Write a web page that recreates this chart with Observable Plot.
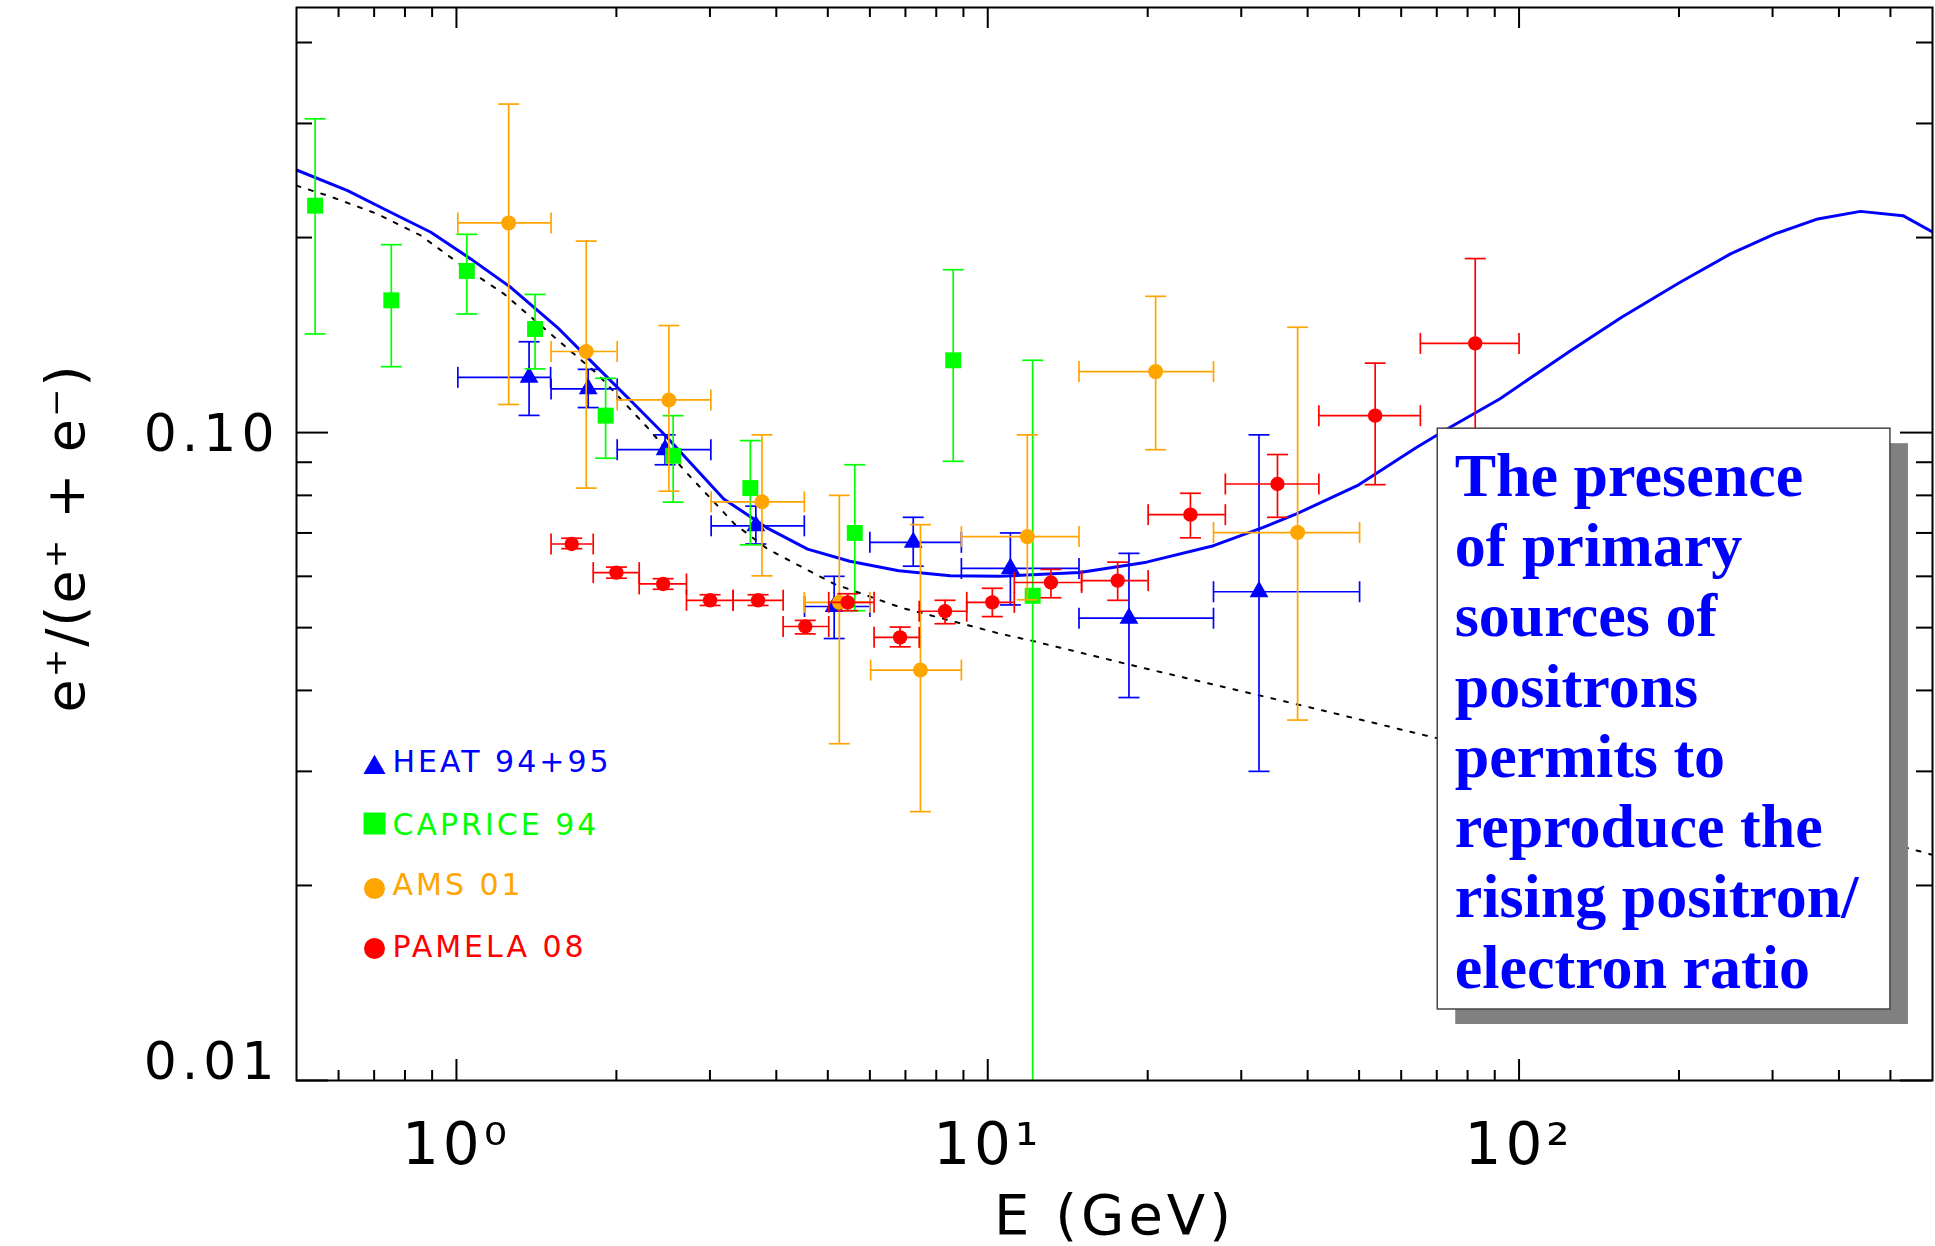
<!DOCTYPE html>
<html><head><meta charset="utf-8">
<script src="https://cdn.jsdelivr.net/npm/d3@7"></script>
<script src="https://cdn.jsdelivr.net/npm/@observablehq/plot@0.6"></script>
<style>
html,body{margin:0;padding:0;background:#fff;}
#chart{width:1935px;height:1246px;overflow:hidden;}
</style></head><body><div id="chart"></div>
<script>
// ---------- data ----------
const seriesNames = ["HEAT 94+95", "CAPRICE 94", "AMS 01", "PAMELA 08"];
const seriesColors = ["#0000ff", "#00ff00", "#ffa500", "#ff0000"];

// HEAT 94+95
const heatE    = [1.37, 1.77, 2.47, 3.66, 5.14, 7.24, 11.03, 18.44, 32.4];
const heatV    = [0.1217, 0.1168, 0.0941, 0.0718, 0.0539, 0.0677, 0.0617, 0.0517, 0.0568];
const heatLo   = [0.1063, 0.1093, 0.0892, 0.0673, 0.0481, 0.0622, 0.0542, 0.0390, 0.0300];
const heatHi   = [0.1381, 0.1252, 0.0992, 0.0770, 0.0600, 0.0740, 0.0700, 0.0651, 0.0992];
const heatElo  = [1.006, 1.507, 2.007, 3.016, 4.52, 6.0, 8.92, 14.85, 26.6];
const heatEhi  = [1.504, 2.007, 3.012, 4.516, 6.0, 8.92, 14.85, 26.6, 50.1];

// CAPRICE 94
const capE   = [0.542, 0.754, 1.046, 1.406, 1.909, 2.558, 3.574, 5.62, 8.61, 12.15];
const capV   = [0.224, 0.160, 0.1776, 0.1445, 0.1062, 0.0921, 0.0821, 0.0700, 0.1293, 0.0560];
const capLo  = [0.142, 0.1264, 0.1524, 0.1254, 0.0913, 0.0781, 0.0671, 0.0531, 0.0903, 0.005];
const capHi  = [0.305, 0.195, 0.2023, 0.1634, 0.1213, 0.1062, 0.0972, 0.0892, 0.1784, 0.1293];

// AMS 01
const amsE   = [1.254, 1.755, 2.511, 3.759, 5.256, 7.47, 11.87, 20.7, 38.3];
const amsV   = [0.2107, 0.1334, 0.1123, 0.0782, 0.0547, 0.0430, 0.0691, 0.1242, 0.0701];
const amsLo  = [0.1105, 0.0821, 0.0812, 0.0601, 0.0331, 0.0260, 0.0552, 0.0941, 0.036];
const amsHi  = [0.3214, 0.1975, 0.1463, 0.0992, 0.0800, 0.0721, 0.0992, 0.1623, 0.1454];
const amsElo = [1.006, 1.507, 2.007, 3.016, 4.516, 6.02, 8.92, 14.85, 26.6];
const amsEhi = [1.507, 2.007, 3.012, 4.516, 6.0, 8.92, 14.85, 26.6, 50.1];

// PAMELA 08
const pamE   = [1.648, 2.0, 2.449, 3.002, 3.696, 4.535, 5.45, 6.84, 8.31, 10.2, 13.15, 17.56, 24.07, 35.1, 53.6, 82.7];
const pamV   = [0.0673, 0.0608, 0.0584, 0.0551, 0.0551, 0.0502, 0.0547, 0.0483, 0.0530, 0.0547, 0.0587, 0.0591, 0.0747, 0.0833, 0.1062, 0.1373];
const pamLo  = [0.0662, 0.0596, 0.0573, 0.0541, 0.0541, 0.0489, 0.0531, 0.0467, 0.0507, 0.0520, 0.0556, 0.0551, 0.0688, 0.0740, 0.0831, 0.100];
const pamHi  = [0.0687, 0.0620, 0.0595, 0.0562, 0.0562, 0.0513, 0.0564, 0.0501, 0.0551, 0.0575, 0.0615, 0.0631, 0.0806, 0.0925, 0.128, 0.1856];
const pamElo = [1.507, 1.809, 2.208, 2.71, 3.317, 4.12, 5.02, 6.11, 7.43, 9.13, 11.22, 15.02, 20.04, 28.0, 42.0, 65.2];
const pamEhi = [1.809, 2.208, 2.71, 3.317, 4.12, 5.02, 6.11, 7.43, 9.13, 11.22, 15.02, 20.04, 28.0, 42.0, 65.2, 100];

// model with primary sources (solid blue)
const primE = [0.5, 0.624, 0.742, 0.895, 1.064, 1.265, 1.548, 1.841, 2.127, 2.457, 3.185, 3.85, 4.58, 5.5, 6.8, 8.5, 10.5, 14.9, 19.9, 26.6, 33.0, 38.1, 49.6, 64.2, 74.2, 92.1, 125, 156, 201, 250, 303, 365, 439, 528, 600];
const primV = [0.2543, 0.2363, 0.2200, 0.2038, 0.1854, 0.1676, 0.1454, 0.1261, 0.1121, 0.0995, 0.0790, 0.0712, 0.0661, 0.0633, 0.0612, 0.0601, 0.0600, 0.0608, 0.0631, 0.0669, 0.0714, 0.0749, 0.0828, 0.0949, 0.1019, 0.1128, 0.1338, 0.1507, 0.1706, 0.1887, 0.2026, 0.2137, 0.2195, 0.2162, 0.2040];

// secondary-only model (dotted black)
const secE = [0.5, 0.58, 0.71, 0.857, 1.034, 1.229, 1.504, 1.841, 2.286, 2.687, 3.336, 3.853, 5.14, 6.86, 10.58, 12.0, 19.9, 38.1, 68.5, 543, 600];
const secV = [0.2405, 0.2313, 0.2175, 0.2014, 0.1800, 0.1637, 0.1420, 0.1232, 0.1019, 0.0874, 0.0723, 0.0661, 0.0584, 0.0537, 0.0489, 0.0478, 0.0432, 0.0381, 0.0339, 0.0228, 0.0223];

// axes
const xMajor = [1, 10, 100];
const xTickLabels = ["10\u2070", "10\u00b9", "10\u00b2"];
const xMinor = [0.6, 0.7, 0.8, 0.9, 2, 3, 4, 5, 6, 7, 8, 9, 20, 30, 40, 50, 60, 70, 80, 90, 200, 300, 400, 500];
const yMajor = [0.01, 0.1];
const yTickLabels = ["0.01", "0.10"];
const yMinor = [0.02, 0.03, 0.04, 0.05, 0.06, 0.07, 0.08, 0.09, 0.2, 0.3, 0.4];
const xTitle = "E (GeV)";
const yTitle = "e\u207a/(e\u207a + e\u207b)";

// annotation
const boxLines = ["The presence", "of primary", "sources of", "positrons", "permits to", "reproduce the", "rising positron/", "electron ratio"];
const boxE = [70.3, 500];
const boxV = [0.01287, 0.1014];

// ---------- build ----------
const W = 1935, H = 1246;
const mL = 296, mR = 3, mT = 7, mB = 166;
const plotW = W - mL - mR, plotH = H - mT - mB;

const zipErr = (E, V, Lo, Hi, Elo, Ehi) => E.map((e, i) => ({e, v: V[i], lo: Lo[i], hi: Hi[i], elo: Elo ? Elo[i] : null, ehi: Ehi ? Ehi[i] : null}));
const heat = zipErr(heatE, heatV, heatLo, heatHi, heatElo, heatEhi);
const cap = zipErr(capE, capV, capLo, capHi, null, null);
const ams = zipErr(amsE, amsV, amsLo, amsHi, amsElo, amsEhi);
const pam = zipErr(pamE, pamV, pamLo, pamHi, pamElo, pamEhi);
const prim = primE.map((e, i) => ({e, v: primV[i]}));
const sec = secE.map((e, i) => ({e, v: secV[i]}));

const hCap = {draw(ctx, size) { const w = Math.sqrt(size / Math.PI); ctx.moveTo(-w, 0); ctx.lineTo(w, 0); }};
const vCap = {draw(ctx, size) { const w = Math.sqrt(size / Math.PI); ctx.moveTo(0, -w); ctx.lineTo(0, w); }};

const SW = 1.7, CAP = 10.5;
function errMarks(data, color, withX) {
  const m = [
    Plot.ruleX(data, {x: "e", y1: "lo", y2: "hi", stroke: color, strokeWidth: SW, clip: true}),
    Plot.dot(data.filter(d => d.lo > 0.0101), {x: "e", y: "lo", symbol: hCap, r: CAP, stroke: color, fill: "none", strokeWidth: SW}),
    Plot.dot(data, {x: "e", y: "hi", symbol: hCap, r: CAP, stroke: color, fill: "none", strokeWidth: SW})
  ];
  if (withX) {
    m.push(
      Plot.ruleY(data, {y: "v", x1: "elo", x2: "ehi", stroke: color, strokeWidth: SW}),
      Plot.dot(data, {x: "elo", y: "v", symbol: vCap, r: CAP, stroke: color, fill: "none", strokeWidth: SW}),
      Plot.dot(data, {x: "ehi", y: "v", symbol: vCap, r: CAP, stroke: color, fill: "none", strokeWidth: SW})
    );
  }
  return m;
}

const legendSymbols = ["triangle", "square", "circle", "circle"];
const legendR = [8.2, 12.4, 10.5, 10.5];
const legendSymDy = [760, 816, 881, 941];
const legendTextDy = [755, 818, 878, 940];
const legendMarks = [];
seriesNames.forEach((name, i) => {
  legendMarks.push(Plot.dot([name], {frameAnchor: "top-left", dx: 78, dy: legendSymDy[i], symbol: legendSymbols[i], r: legendR[i], fill: seriesColors[i], stroke: "none"}));
  legendMarks.push(Plot.text([name], {frameAnchor: "top-left", dx: 96, dy: legendTextDy[i], text: d => d, textAnchor: "start", lineAnchor: "middle", fill: seriesColors[i], fontSize: 30, fontFamily: "DejaVu Sans"}));
});

const box = [{x1: boxE[0], x2: boxE[1], y1: boxV[0], y2: boxV[1]}];

const chart = Plot.plot({
  width: W, height: H,
  marginLeft: mL, marginRight: mR, marginTop: mT, marginBottom: mB,
  style: {background: "#fff", fontFamily: "DejaVu Sans"},
  x: {type: "log", domain: [0.5, 600], axis: null},
  y: {type: "log", domain: [0.01, 0.453], axis: null},
  marks: [
    // curves
    Plot.line(prim, {x: "e", y: "v", stroke: "#0000ff", strokeWidth: 3, clip: true}),
    Plot.line(sec, {x: "e", y: "v", stroke: "#000", strokeWidth: 2, strokeDasharray: "4,9", clip: true}),
    // data
    ...errMarks(heat, seriesColors[0], true),
    Plot.dot(heat, {x: "e", y: "v", symbol: "triangle", r: 7, fill: seriesColors[0], stroke: "none"}),
    ...errMarks(cap, seriesColors[1], false),
    Plot.dot(cap, {x: "e", y: "v", symbol: "square", r: 9, fill: seriesColors[1], stroke: "none"}),
    ...errMarks(ams, seriesColors[2], true),
    Plot.dot(ams, {x: "e", y: "v", r: 7.5, fill: seriesColors[2], stroke: "none"}),
    ...errMarks(pam, seriesColors[3], true),
    Plot.dot(pam, {x: "e", y: "v", r: 7.2, fill: seriesColors[3], stroke: "none"}),
    // annotation box
    Plot.rect(box, {x1: "x1", x2: "x2", y1: "y1", y2: "y2", fill: "#808080", dx: 18, dy: 15}),
    Plot.rect(box, {x1: "x1", x2: "x2", y1: "y1", y2: "y2", fill: "#fff", stroke: "#444", strokeWidth: 1.5}),
    Plot.text([boxLines.join("\n")], {x: boxE[0], y: boxV[1], text: d => d, textAnchor: "start", lineAnchor: "top", dx: 17, dy: 17, lineHeight: 1.134, fontSize: 62, fontWeight: "bold", fontFamily: "Liberation Serif", fill: "#0000ff"}),
    // legend
    ...legendMarks,
    // frame and inward ticks
    Plot.frame({stroke: "#000", strokeWidth: 2}),
    Plot.ruleX(xMajor, {insetTop: plotH - 21, stroke: "#000", strokeWidth: 2}),
    Plot.ruleX(xMajor, {insetBottom: plotH - 21, stroke: "#000", strokeWidth: 2}),
    Plot.ruleX(xMinor, {insetTop: plotH - 10, stroke: "#000", strokeWidth: 2}),
    Plot.ruleX(xMinor, {insetBottom: plotH - 10, stroke: "#000", strokeWidth: 2}),
    Plot.ruleY(yMajor, {insetRight: plotW - 32, stroke: "#000", strokeWidth: 2}),
    Plot.ruleY(yMajor, {insetLeft: plotW - 32, stroke: "#000", strokeWidth: 2}),
    Plot.ruleY(yMinor, {insetRight: plotW - 16, stroke: "#000", strokeWidth: 2}),
    Plot.ruleY(yMinor, {insetLeft: plotW - 16, stroke: "#000", strokeWidth: 2}),
    // tick labels
    Plot.text([yMajor[1]], {y: d => d, frameAnchor: "left", dx: -17, dy: 2, text: () => yTickLabels[1], textAnchor: "end", lineAnchor: "middle", fontSize: 52, fontFamily: "DejaVu Sans", fill: "#000"}),
    Plot.text([yMajor[0]], {y: d => d, frameAnchor: "left", dx: -17, dy: -18, text: () => yTickLabels[0], textAnchor: "end", lineAnchor: "middle", fontSize: 52, fontFamily: "DejaVu Sans", fill: "#000"}),
    Plot.text(xMajor, {x: d => d, frameAnchor: "bottom", dy: 83, text: (d, i) => xTickLabels[i], textAnchor: "middle", lineAnchor: "bottom", fontSize: 58, fontFamily: "DejaVu Sans", fill: "#000"}),
    // axis titles
    Plot.text([xTitle], {frameAnchor: "bottom", dy: 153, text: d => d, textAnchor: "middle", lineAnchor: "bottom", fontSize: 56, fontFamily: "DejaVu Sans", fill: "#000"}),
    Plot.text([yTitle], {frameAnchor: "left", dx: -230, dy: -6, rotate: -90, text: d => d, textAnchor: "middle", lineAnchor: "middle", fontSize: 54, fontFamily: "DejaVu Sans", fill: "#000"})
  ]
});
// letter spacing to mimic the wide vector font of the original, keyed by font size
const spacing = {"30": "3px", "52": "5px", "58": "4px", "56": "4px", "54": "2px"};
chart.querySelectorAll("g[font-size]").forEach(g => {
  const s = spacing[g.getAttribute("font-size")];
  if (s) g.style.letterSpacing = s;
});
document.getElementById("chart").appendChild(chart);
</script></body></html>
